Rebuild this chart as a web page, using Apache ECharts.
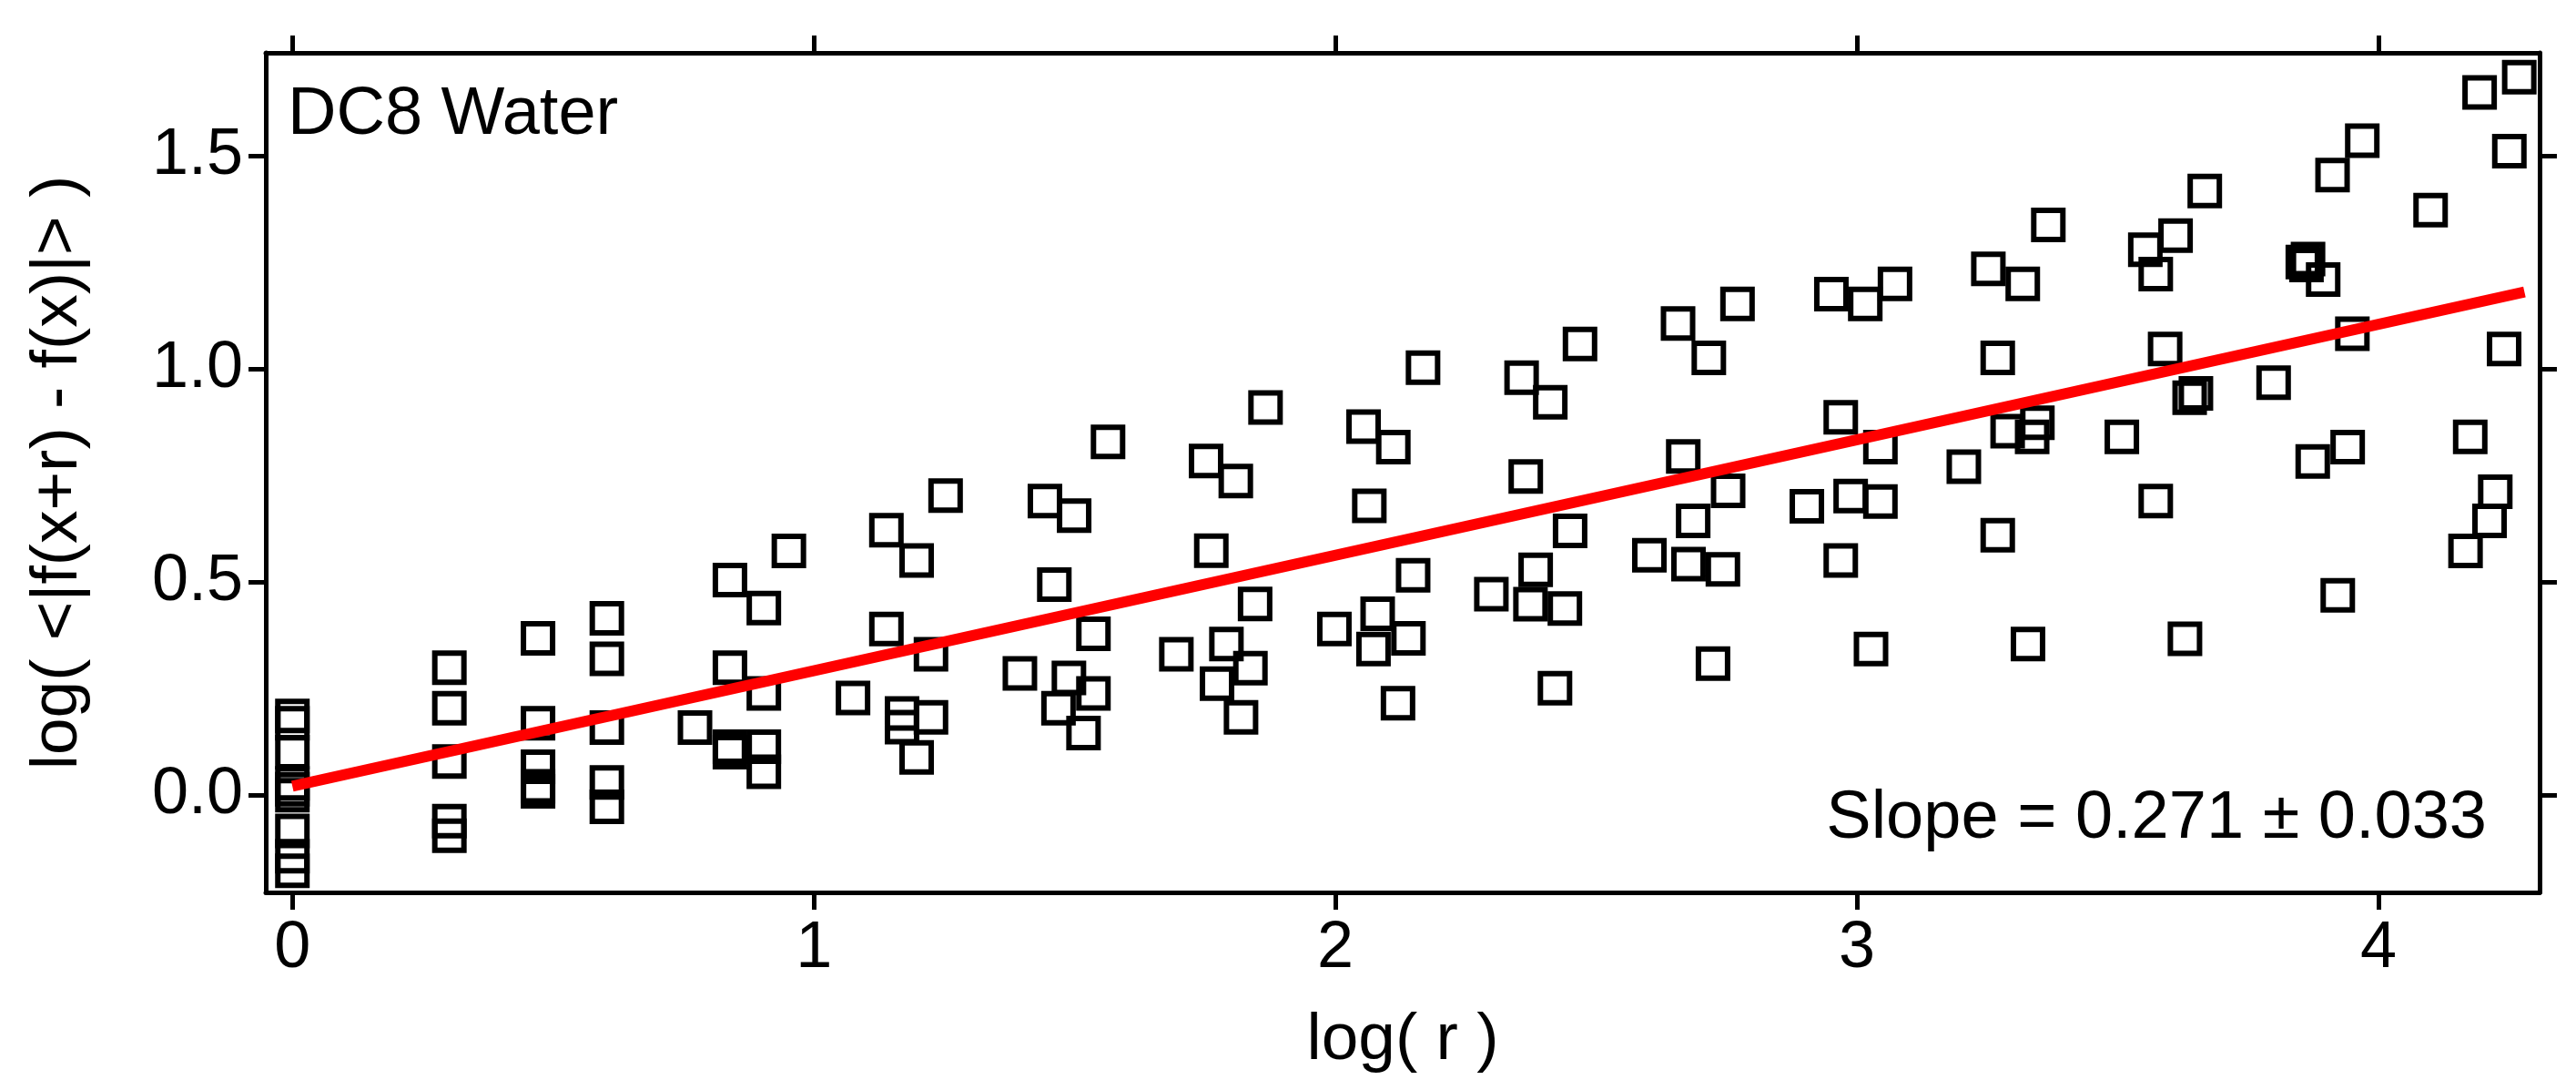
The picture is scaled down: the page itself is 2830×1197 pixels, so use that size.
<!DOCTYPE html>
<html>
<head>
<meta charset="utf-8">
<title>DC8 Water</title>
<script src="https://cdn.jsdelivr.net/npm/echarts@6/dist/echarts.min.js"></script>
<style>
    html, body { margin: 0; padding: 0; background: #fff; }
    #chart { width: 2830px; height: 1197px; }
</style>
</head>
<body>
<div id="chart"></div>
<script>
// x = log(r), y = log(<|f(x+r) - f(x)|>)
const logR = [
    0, 0, 0, 0, 0, 0, 0, 0, 0,
    0.301, 0.301, 0.301, 0.301, 0.301,
    0.471, 0.471, 0.471, 0.471, 0.471,
    0.603, 0.603, 0.603, 0.603, 0.603,
    0.772,
    0.839, 0.839, 0.839, 0.839,
    0.904, 0.904, 0.904, 0.904,
    0.952, 1.075, 1.139, 1.139, 1.169, 1.169, 1.197, 1.197, 1.2245, 1.2245, 1.2525,
    1.395, 1.443, 1.461, 1.469, 1.489, 1.499, 1.517, 1.536, 1.536, 1.564,
    1.695, 1.752, 1.762, 1.773, 1.791, 1.809, 1.819, 1.837, 1.846, 1.866,
    1.998, 2.054, 2.065, 2.073, 2.081, 2.111, 2.120, 2.140, 2.149, 2.168,
    2.299, 2.357, 2.365, 2.374, 2.384, 2.412, 2.421, 2.440, 2.450, 2.469,
    2.602, 2.657, 2.667, 2.677, 2.686, 2.716, 2.724, 2.743, 2.753, 2.771,
    2.904, 2.951, 2.969, 2.969, 2.988, 3.016, 3.027, 3.045, 3.045, 3.073,
    3.205, 3.252, 3.270, 3.270, 3.289, 3.318, 3.328, 3.336, 3.346, 3.367,
    3.508, 3.553, 3.573, 3.573, 3.591, 3.611, 3.629, 3.638, 3.650, 3.667,
    3.799, 3.855, 3.862, 3.865, 3.874, 3.894, 3.912, 3.922, 3.941, 3.950, 3.969,
    4.100, 4.167, 4.176, 4.194, 4.213, 4.224, 4.241, 4.251, 4.270
];
const logDiff = [
    0.185, 0.168, 0.10, 0.027, 0.013, -0.001, -0.085, -0.144, -0.178,
    0.298, 0.203, 0.078, -0.062, -0.096,
    0.367, 0.168, 0.066, 0.020, 0.008,
    0.414, 0.319, 0.158, 0.029, -0.028,
    0.158,
    0.504, 0.298, 0.113, 0.100,
    0.438, 0.238, 0.113, 0.054,
    0.572, 0.227, 0.621, 0.389, 0.191, 0.159, 0.550, 0.088, 0.330, 0.182, 0.702,
    0.285, 0.689, 0.493, 0.203, 0.274, 0.655, 0.145, 0.378, 0.238, 0.828,
    0.330, 0.783, 0.573, 0.261, 0.354, 0.736, 0.182, 0.297, 0.448, 0.909,
    0.389, 0.864, 0.678, 0.342, 0.425, 0.816, 0.215, 0.367, 0.515, 1.002,
    0.471, 0.979, 0.747, 0.447, 0.528, 0.921, 0.250, 0.437, 0.619, 1.058,
    0.562, 1.106, 0.794, 0.541, 0.643, 1.025, 0.308, 0.529, 0.713, 1.152,
    0.677, 1.175, 0.886, 0.550, 0.701, 1.152, 0.342, 0.816, 0.688, 1.199,
    0.770, 1.234, 1.025, 0.609, 0.853, 1.199, 0.354, 0.840, 0.873, 1.337,
    0.840, 1.279, 1.222, 0.689, 1.046, 1.312, 0.366, 0.932, 0.942, 1.417,
    0.967, 1.250, 1.243, 1.257, 0.782, 1.209, 1.454, 0.468, 0.816, 1.082, 1.535,
    1.372, 0.572, 0.840, 1.648, 0.643, 0.711, 1.046, 1.510, 1.684
];

// fitted line end points
const fitX = [0, 4.28];
const fitY = [0.02, 1.18];

const xTicks = [0, 1, 2, 3, 4];
const yTicks = [0, 0.5, 1.0, 1.5];

const FONT = '"Liberation Sans", Arial, sans-serif';

const chart = echarts.init(document.getElementById("chart"));

const lineStyle = { color: "#000", width: 5 };

const xBase = {
    type: "value",
    min: -0.051,
    max: 4.309,
    splitLine: { show: false },
    axisLine: { show: true, onZero: false, lineStyle },
    axisTick: { show: true, length: 19, lineStyle, customValues: xTicks },
};

const yBase = {
    type: "value",
    min: -0.229,
    max: 1.741,
    splitLine: { show: false },
    axisLine: { show: true, onZero: false, lineStyle },
    axisTick: { show: true, length: 19, lineStyle, customValues: yTicks },
};

const option = {
    animation: false,
    backgroundColor: "#fff",
    textStyle: { fontFamily: FONT, color: "#000" },
    grid: { left: 292, right: 40, top: 58, bottom: 217, containLabel: false },
    xAxis: [
        {
            ...xBase,
            position: "bottom",
            name: "log( r )",
            nameLocation: "middle",
            nameGap: 126,
            nameTextStyle: { fontSize: 73, fontFamily: FONT, color: "#000" },
            axisLabel: {
                show: true,
                margin: 26,
                fontSize: 72,
                fontFamily: FONT,
                color: "#000",
                customValues: xTicks,
                formatter: (v) => String(v),
            },
        },
        { ...xBase, position: "top", axisLabel: { show: false } },
    ],
    yAxis: [
        {
            ...yBase,
            position: "left",
            name: "log( <|f(x+r) - f(x)|> )",
            nameLocation: "middle",
            nameGap: 192,
            nameTextStyle: { fontSize: 73, fontFamily: FONT, color: "#000" },
            axisLabel: {
                show: true,
                margin: 25,
                fontSize: 72,
                fontFamily: FONT,
                color: "#000",
                customValues: yTicks,
                formatter: (v) => v.toFixed(1),
            },
        },
        { ...yBase, position: "right", axisLabel: { show: false } },
    ],
    graphic: [
        {
            type: "text",
            x: 316,
            y: 127,
            style: {
                text: "DC8 Water",
                font: "74px " + FONT,
                fill: "#000",
                textAlign: "left",
                textVerticalAlign: "middle",
                align: "left",
                verticalAlign: "middle",
            },
        },
        {
            type: "text",
            x: 2732,
            y: 900,
            style: {
                text: "Slope = 0.271 \u00b1 0.033",
                font: "74px " + FONT,
                fill: "#000",
                textAlign: "right",
                textVerticalAlign: "middle",
                align: "right",
                verticalAlign: "middle",
            },
        },
    ],
    series: [
        {
            type: "scatter",
            clip: false,
            symbol: "rect",
            symbolSize: 32,
            itemStyle: {
                color: "rgba(0,0,0,0)",
                borderColor: "#000",
                borderWidth: 6,
                opacity: 1,
            },
            data: logR.map((x, i) => [x, logDiff[i]]),
            z: 2,
        },
        {
            type: "line",
            symbol: "none",
            lineStyle: { color: "#ff0000", width: 12, cap: "butt" },
            data: fitX.map((x, i) => [x, fitY[i]]),
            z: 3,
        },
    ],
};

chart.setOption(option);
window.addEventListener("resize", () => chart.resize());
</script>
</body>
</html>
